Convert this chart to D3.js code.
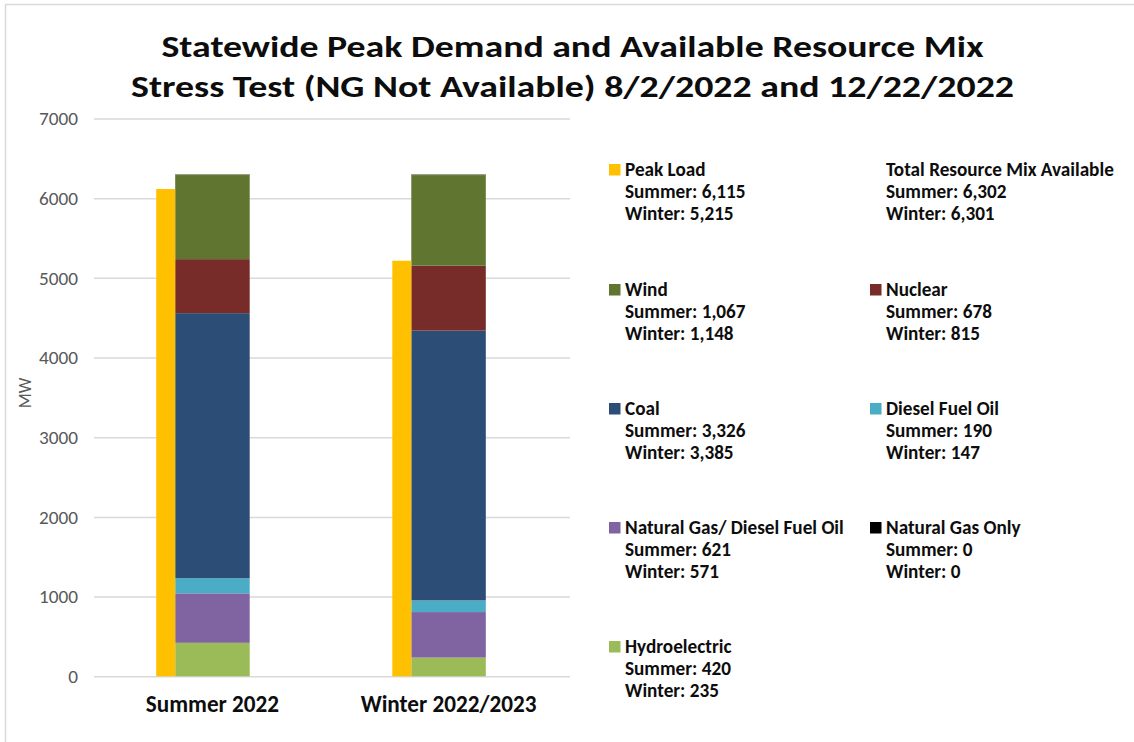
<!DOCTYPE html>
<html>
<head>
<meta charset="utf-8">
<script src="https://cdn.jsdelivr.net/npm/d3@7"></script>
<style>
  html, body { margin: 0; padding: 0; background: #fff; }
  svg { display: block; }
  text { font-family: Carlito, Calibri, Lato, "Open Sans", sans-serif; }
</style>
</head>
<body>
<svg id="chart" width="1134" height="742"></svg>
<script>
// ---------------- Data ----------------
const categories = ["Summer 2022", "Winter 2022/2023"];
const peakLoad   = [6115, 5215];
const hydro      = [420, 235];
const ngDiesel   = [621, 571];
const dieselOil  = [190, 147];
const ngOnly     = [0, 0];
const coal       = [3326, 3385];
const nuclear    = [678, 815];
const wind       = [1067, 1148];
const totalMix   = [6302, 6301];
const yTicks     = [0, 1000, 2000, 3000, 4000, 5000, 6000, 7000];
const titleLines = ["Statewide Peak Demand and Available Resource Mix",
                    "Stress Test (NG Not Available) 8/2/2022 and 12/22/2022"];

// stacked series, bottom to top
const stackSeries = [
  { key: "Hydroelectric", values: hydro, color: "#9BBB59" },
  { key: "Natural Gas/ Diesel Fuel Oil", values: ngDiesel, color: "#8064A2" },
  { key: "Diesel Fuel Oil", values: dieselOil, color: "#4BACC6" },
  { key: "Natural Gas Only", values: ngOnly, color: "#000000" },
  { key: "Coal", values: coal, color: "#2C4D75" },
  { key: "Nuclear", values: nuclear, color: "#772C2A" },
  { key: "Wind", values: wind, color: "#5F7530" }
];
const peakColor = "#FFC000";

// legend entries (two columns)
const legendEntries = [
  { name: "Peak Load", color: peakColor, values: peakLoad },
  { name: "Total Resource Mix Available", color: null, values: totalMix },
  { name: "Wind", color: "#5F7530", values: wind },
  { name: "Nuclear", color: "#772C2A", values: nuclear },
  { name: "Coal", color: "#2C4D75", values: coal },
  { name: "Diesel Fuel Oil", color: "#4BACC6", values: dieselOil },
  { name: "Natural Gas/ Diesel Fuel Oil", color: "#8064A2", values: ngDiesel },
  { name: "Natural Gas Only", color: "#000000", values: ngOnly },
  { name: "Hydroelectric", color: "#9BBB59", values: hydro }
];

// ---------------- Layout ----------------
const svg = d3.select("#chart");
const W = 1134, H = 742;

// outer border
svg.append("path")
  .attr("d", `M5.5,${H} L5.5,4.5 L${W},4.5`)
  .attr("fill", "none").attr("stroke", "#d9d9d9").attr("stroke-width", 1.5);

const plotLeft = 94, plotRight = 570;
const y = d3.scaleLinear().domain([0, 7000]).range([676.3, 118.5]);
const x = d3.scaleBand().domain(categories).range([94.4, 566.6]).padding(0);

// gridlines
const grid = svg.append("g").attr("transform", `translate(${plotLeft},0)`)
  .call(d3.axisLeft(y).tickValues(yTicks).tickSize(-(plotRight - plotLeft)).tickFormat(""));
grid.select(".domain").remove();
grid.selectAll("line").attr("stroke", "#d9d9d9").attr("stroke-width", 1.5);

// y axis labels
const yAxis = svg.append("g").attr("transform", `translate(${plotLeft},0)`)
  .call(d3.axisLeft(y).tickValues(yTicks).tickSize(0).tickPadding(16).tickFormat(d3.format("d")));
yAxis.select(".domain").remove();
yAxis.selectAll("text")
  .attr("fill", "#595959").attr("font-size", 16)
  .style("font-family", "Carlito, Calibri, Lato, sans-serif");

// y axis title
svg.append("text")
  .attr("transform", "translate(31,393) rotate(-90)")
  .attr("text-anchor", "middle")
  .attr("fill", "#595959").attr("font-size", 17.5)
  .text("MW");

// bars
const stackW = 74.5, peakW = 19;
const stacked = d3.stack().keys(d3.range(stackSeries.length))
  .value((i, k) => stackSeries[k].values[i])(d3.range(categories.length));

const gStack = svg.append("g");
stacked.forEach((layer, k) => {
  gStack.selectAll(null).data(layer).enter().append("rect")
    .attr("x", (d, i) => x(categories[i]) + x.bandwidth() / 2 - stackW / 2)
    .attr("width", stackW)
    .attr("y", d => y(d[1]))
    .attr("height", d => y(d[0]) - y(d[1]))
    .attr("fill", stackSeries[k].color);
});
// thin light top edge on stacks
gStack.selectAll(null).data(totalMix).enter().append("line")
  .attr("x1", (d, i) => x(categories[i]) + x.bandwidth() / 2 - stackW / 2)
  .attr("x2", (d, i) => x(categories[i]) + x.bandwidth() / 2 + stackW / 2)
  .attr("y1", d => y(d) + 0.5).attr("y2", d => y(d) + 0.5)
  .attr("stroke", "#9aa58a").attr("stroke-width", 1);

svg.append("g").selectAll("rect").data(peakLoad).enter().append("rect")
  .attr("x", (d, i) => x(categories[i]) + x.bandwidth() / 2 - stackW / 2 - peakW)
  .attr("width", peakW)
  .attr("y", d => y(d))
  .attr("height", d => y(0) - y(d))
  .attr("fill", peakColor);

// x axis labels
const xAxis = svg.append("g").attr("transform", `translate(0,${y(0)})`)
  .call(d3.axisBottom(x).tickSize(0));
xAxis.select(".domain").remove();
xAxis.selectAll("text")
  .attr("y", 36).attr("dy", "0")
  .attr("fill", "#0d0d0d").attr("font-size", 19).attr("font-weight", "bold")
  .style("font-family", "Carlito, Calibri, Lato, sans-serif");

// title (fixed size, stretched to the reference line widths)
const titleWidths = [822, 883];
const titleG = svg.append("g");
titleG.selectAll("text").data(titleLines).enter().append("text")
  .attr("x", 572.5).attr("y", (d, i) => 57 + i * 40)
  .attr("text-anchor", "middle")
  .attr("font-weight", "bold").attr("font-size", 31).attr("fill", "#0d0d0d")
  .attr("textLength", (d, i) => titleWidths[i])
  .attr("lengthAdjust", "spacingAndGlyphs")
  .text(d => d);

// legend
const colX = [609, 870], rowY = [170, 290, 409, 528, 647], lineH = 22;
const fmt = d3.format(",");
const legG = svg.append("g");
legendEntries.forEach((e, idx) => {
  const cx = colX[idx % 2], cy = rowY[Math.floor(idx / 2)];
  const g = legG.append("g").attr("transform", `translate(${cx},${cy})`);
  if (e.color) {
    g.append("rect").attr("x", 0).attr("y", -6).attr("width", 11.5).attr("height", 11.5)
      .attr("fill", e.color);
  }
  const tx = 16;
  const lines = [e.name, "Summer: " + fmt(e.values[0]), "Winter: " + fmt(e.values[1])];
  g.selectAll("text").data(lines).enter().append("text")
    .attr("class", "leg")
    .attr("x", tx).attr("y", (d, i) => 5.5 + i * lineH)
    .attr("font-weight", "bold").attr("font-size", 16).attr("fill", "#0d0d0d")
    .text(d => d);
});

// fit fonts so widths match reference (font fallback may differ from Calibri)
function fitGroup(sel, refNode, targetW) {
  const cur = +d3.select(refNode).attr("font-size");
  const w = refNode.getComputedTextLength();
  if (w > 0) {
    const fs = cur * targetW / w;
    sel.attr("font-size", fs);
  }
}
const legTexts = legG.selectAll("text.leg");
const refLeg = legTexts.nodes().find(n => n.textContent === "Total Resource Mix Available");
fitGroup(legTexts, refLeg, 228);
const xt = xAxis.selectAll("text");
fitGroup(xt, xt.nodes()[1], 176);
const yt = yAxis.selectAll("text");
fitGroup(yt, yt.nodes()[7], 39);
</script>
</body>
</html>
